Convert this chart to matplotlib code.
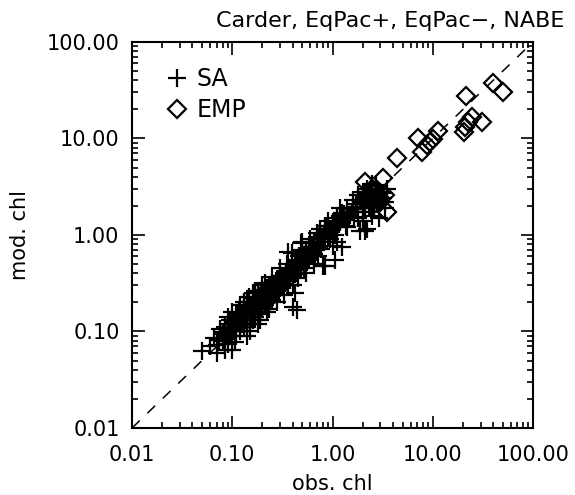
import matplotlib
matplotlib.use("Agg")
import matplotlib.pyplot as plt
from matplotlib.ticker import FixedLocator, LogLocator, NullFormatter, FuncFormatter

# SA model (plus markers)
sa_obs = [0.05, 0.06, 0.07, 0.075, 0.08, 0.085, 0.09, 0.09, 0.095, 0.10, 0.10, 0.10,
          0.11, 0.11, 0.11, 0.12, 0.12, 0.12, 0.13, 0.13, 0.13, 0.14, 0.14, 0.14,
          0.15, 0.15, 0.15, 0.16, 0.16, 0.16, 0.17, 0.17, 0.17, 0.18, 0.18, 0.18,
          0.19, 0.19, 0.20, 0.20, 0.20, 0.21, 0.21, 0.22, 0.22, 0.23, 0.23, 0.24,
          0.24, 0.25, 0.25, 0.26, 0.27, 0.27, 0.28, 0.29, 0.30, 0.30, 0.31, 0.32,
          0.33, 0.34, 0.35, 0.36, 0.36, 0.38, 0.40, 0.40, 0.42, 0.44, 0.45, 0.47,
          0.50, 0.50, 0.52, 0.55, 0.55, 0.58, 0.60, 0.62, 0.65, 0.68, 0.70, 0.72,
          0.75, 0.78, 0.80, 0.82, 0.85, 0.88, 0.90, 0.95, 1.0, 1.0, 1.05, 1.1,
          1.15, 1.18, 1.25, 1.3, 1.4, 1.5, 1.6, 1.7, 1.8, 1.87, 2.0, 2.0, 2.1,
          2.2, 2.2, 2.3, 2.4, 2.4, 2.5, 2.6, 2.7, 2.8, 3.0, 3.0, 3.2, 3.3, 3.5,
          0.105, 0.125, 0.145, 0.165, 0.185, 0.205, 0.225, 0.26, 0.29, 0.135,
          0.155, 0.175, 0.195, 0.215, 0.235,
          0.065, 0.07, 0.08, 0.085, 0.09, 0.095, 0.10, 0.10, 0.105, 0.11,
          0.115, 0.115, 0.12, 0.125, 0.13, 0.13, 0.135, 0.14, 0.14, 0.145,
          0.15, 0.15, 0.155, 0.16, 0.16, 0.165, 0.17, 0.17, 0.175, 0.18,
          0.18, 0.185, 0.19, 0.19, 0.20, 0.20, 0.21, 0.21, 0.22, 0.22,
          0.23, 0.23, 0.24, 0.24, 0.25, 0.25, 0.26, 0.26, 0.27, 0.28,
          0.28, 0.29, 0.30, 0.30, 0.31, 0.32, 0.33, 0.34, 0.35, 0.36,
          0.37, 0.38, 0.39, 0.40, 0.42, 0.43, 0.45, 0.46, 0.48, 0.50,
          0.52, 0.54, 0.56, 0.60, 0.63, 0.66, 0.70, 0.74, 0.77, 0.80,
          0.85, 0.90, 0.95, 1.0, 1.05, 1.1, 1.2, 1.3, 1.35, 1.45,
          1.55, 1.65, 1.75, 1.9, 2.0, 2.15, 2.3, 2.5, 2.6, 2.8,
          2.9, 3.1, 3.3, 2.2, 2.5,
          0.074, 0.083, 0.106, 0.117, 0.147, 0.44, 0.42, 0.37, 0.49, 0.78,
          0.84, 1.06, 1.24, 2.1, 2.9, 1.06, 0.58, 0.39, 0.73,
          0.12, 0.14, 0.16, 0.18, 0.20, 0.22, 0.25, 0.28, 0.30, 0.33,
          0.35, 0.40, 0.45, 0.50, 0.55, 0.60, 0.65, 0.90, 1.1, 1.4,
          1.6, 1.8, 2.0, 2.4, 2.7, 1.2, 0.70, 0.13, 0.15, 0.17,
          0.19, 0.21, 0.23, 0.10, 0.09, 0.085]
sa_mod = [0.063, 0.07, 0.072, 0.105, 0.08, 0.09, 0.075, 0.12, 0.10, 0.16, 0.11, 0.13,
          0.09, 0.14, 0.12, 0.10, 0.15, 0.13, 0.12, 0.18, 0.14, 0.11, 0.16, 0.20,
          0.14, 0.17, 0.12, 0.19, 0.15, 0.22, 0.17, 0.14, 0.21, 0.20, 0.16, 0.25,
          0.18, 0.22, 0.21, 0.17, 0.26, 0.19, 0.24, 0.22, 0.28, 0.20, 0.25, 0.23,
          0.30, 0.26, 0.21, 0.28, 0.25, 0.33, 0.30, 0.27, 0.32, 0.38, 0.29, 0.35,
          0.31, 0.40, 0.36, 0.66, 0.30, 0.42, 0.18, 0.38, 0.48, 0.40, 0.55, 0.45,
          0.85, 0.52, 0.45, 0.61, 0.70, 0.55, 0.75, 0.62, 0.85, 0.70, 0.95, 0.60,
          1.15, 0.85, 0.48, 1.0, 1.25, 1.23, 0.95, 1.1, 1.36, 0.77, 1.2, 1.5,
          1.3, 1.58, 1.7, 1.45, 1.9, 1.6, 1.87, 2.1, 1.5, 1.1, 2.8, 2.2, 1.9,
          1.16, 2.5, 2.0, 3.2, 2.6, 1.58, 2.3, 2.9, 2.1, 2.8, 2.5, 2.4, 1.9, 3.0,
          0.125, 0.14, 0.17, 0.18, 0.21, 0.23, 0.26, 0.31, 0.34, 0.16,
          0.19, 0.20, 0.24, 0.25, 0.27,
          0.085, 0.06, 0.095, 0.11, 0.085, 0.13, 0.09, 0.12, 0.10, 0.105,
          0.13, 0.15, 0.11, 0.12, 0.16, 0.11, 0.13, 0.15, 0.13, 0.18,
          0.15, 0.19, 0.14, 0.17, 0.13, 0.20, 0.19, 0.16, 0.22, 0.18,
          0.15, 0.23, 0.20, 0.16, 0.19, 0.23, 0.21, 0.27, 0.20, 0.25,
          0.23, 0.29, 0.21, 0.26, 0.28, 0.32, 0.24, 0.31, 0.28, 0.26,
          0.35, 0.31, 0.28, 0.35, 0.33, 0.30, 0.38, 0.33, 0.42, 0.35,
          0.40, 0.34, 0.45, 0.43, 0.39, 0.52, 0.47, 0.60, 0.50, 0.62,
          0.56, 0.68, 0.52, 0.66, 0.72, 0.64, 0.80, 0.90, 0.72, 0.92,
          1.05, 1.15, 0.90, 1.2, 1.0, 1.25, 1.35, 1.65, 1.25, 1.55,
          1.75, 1.55, 1.95, 2.3, 1.75, 2.4, 2.7, 2.4, 2.0, 2.6,
          2.3, 2.7, 2.2, 3.0, 3.4,
          0.082, 0.099, 0.078, 0.159, 0.23, 0.167, 0.25, 0.43, 0.83, 0.95,
          0.48, 0.55, 0.75, 1.1, 1.5, 1.35, 0.75, 0.65, 0.75,
          0.19, 0.09, 0.25, 0.12, 0.30, 0.16, 0.37, 0.20, 0.45, 0.24,
          0.50, 0.30, 0.36, 0.70, 0.40, 0.90, 0.50, 1.4, 0.85, 1.2,
          2.3, 2.6, 1.4, 1.9, 3.3, 1.9, 1.05, 0.20, 0.10, 0.26,
          0.13, 0.32, 0.17, 0.065, 0.14, 0.065]

# EMP model (diamond markers)
emp_obs = [40, 50, 21.5, 31, 24.5, 22.6, 21, 20.3, 11.3, 7.1, 9.4, 8.7, 7.8, 10,
           4.4, 3.2, 2.1, 3.5, 2.8, 2.5, 3.0, 2.6, 3.3]
emp_mod = [38, 30, 27.6, 14.8, 16.7, 14.8, 13.2, 11.7, 12.0, 10.1, 9.2, 8.6, 7.2, 9.9,
           6.3, 3.9, 3.5, 1.74, 2.6, 3.0, 2.2, 2.1, 2.6]

tick_vals = [0.01, 0.1, 1.0, 10.0, 100.0]
title = "Carder, EqPac+, EqPac\u2212, NABE"

fig = plt.figure(figsize=(5.75, 4.95), dpi=100)
ax = fig.add_axes([0.2296, 0.1354, 0.6974, 0.7798])
ax.set_xscale("log")
ax.set_yscale("log")
ax.set_xlim(0.01, 100)
ax.set_ylim(0.01, 100)

ax.plot([0.01, 100], [0.01, 100], color="black", lw=1.1, ls=(0, (7, 7)))
ax.plot(emp_obs, emp_mod, ls="none", marker="D", ms=9, mew=1.6, mfc="none",
        mec="black", label="EMP")
ax.plot(sa_obs, sa_mod, ls="none", marker="+", ms=13, mew=1.6, color="black", label="SA")

for axis in (ax.xaxis, ax.yaxis):
    axis.set_major_locator(FixedLocator(tick_vals))
    axis.set_minor_locator(LogLocator(base=10, subs=range(2, 10)))
    axis.set_minor_formatter(NullFormatter())
    axis.set_major_formatter(FuncFormatter(lambda v, p: "%.2f" % v))

ax.tick_params(which="both", direction="in", top=True, right=True, width=1.2,
               labelsize=15, colors="black")
ax.tick_params(axis="x", which="major", length=9, pad=12)
ax.tick_params(axis="y", which="major", length=9, pad=9)
ax.tick_params(which="minor", length=4.5)
for s in ax.spines.values():
    s.set_linewidth(1.5)

fig.text(0.678, 0.958, title, fontsize=16, ha="center", va="center")
ax.set_xlabel("obs. chl", fontsize=15, va="center")
ax.set_ylabel("mod. chl", fontsize=15, va="center")
ax.xaxis.set_label_coords(0.5, -0.145)
ax.yaxis.set_label_coords(-0.28, 0.5)

h, l = ax.get_legend_handles_labels()
leg = ax.legend([h[1], h[0]], [l[1], l[0]], loc="upper left", frameon=False,
                fontsize=17, handlelength=1.0, handletextpad=0.3, borderaxespad=0.0,
                bbox_to_anchor=(0.06, 0.96), labelspacing=0.3)

fig.savefig("out.png", dpi=100)
